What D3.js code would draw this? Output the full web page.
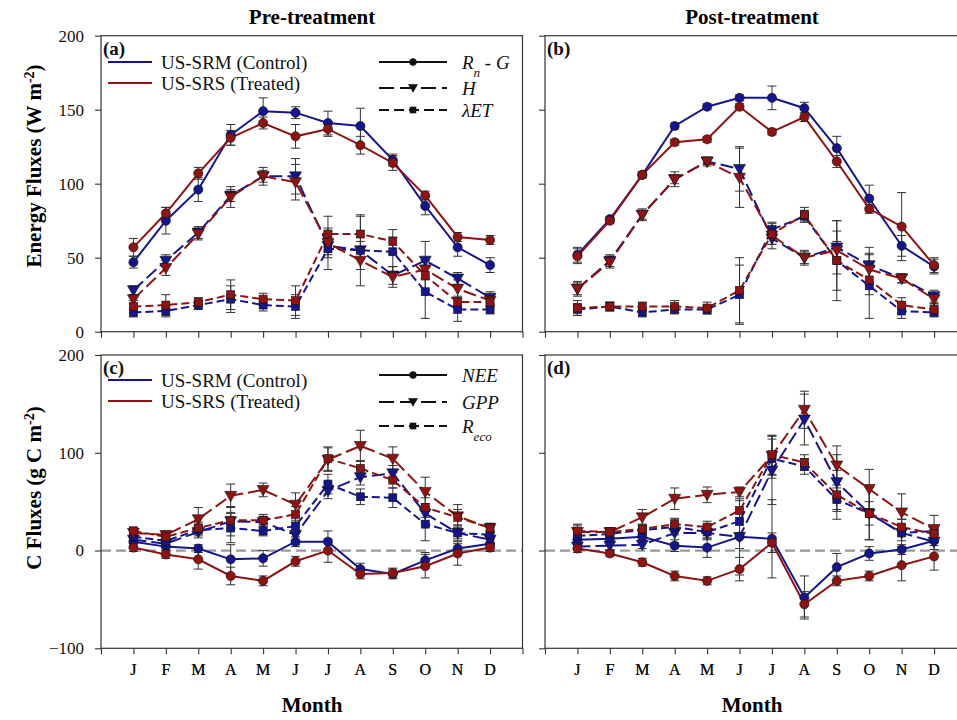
<!DOCTYPE html>
<html>
<head>
<meta charset="utf-8">
<script src="https://d3js.org/d3.v7.min.js"></script>
<style>
  body { margin: 0; background: #fff; }
  svg text { font-family: "Liberation Serif", "Times New Roman", Tinos, "DejaVu Serif", serif !important; }
</style>
</head>
<body>
<script>
// month labels
var months = ["J", "F", "M", "A", "M", "J", "J", "A", "S", "O", "N", "D"];

// (a) pre-treatment energy fluxes, W m-2
var preRnG_SRM = [47, 75, 96, 133, 149, 148, 141, 139, 116, 85, 57, 45];
var preRnG_SRM_err = [4, 9, 8, 7, 9, 4, 8, 12, 4, 6, 6, 5];
var preRnG_SRS = [57, 80, 107, 131, 141, 132, 137, 126, 114, 92, 64, 62];
var preRnG_SRS_err = [6, 4, 4, 5, 4, 8, 5, 6, 5, 3, 3, 3];
var preH_SRM = [28, 48, 67, 92, 105, 105, 58, 55, 38, 48, 36, 23];
var preH_SRM_err = [3, 4, 4, 4, 6, 12, 8, 6, 6, 13, 4, 4];
var preH_SRS = [22, 43, 66, 91, 105, 101, 60, 48, 37, 42, 29, 21];
var preH_SRS_err = [3, 5, 4, 7, 4, 12, 8, 6, 7, 6, 6, 4];
var preLE_SRM = [13, 14, 18, 22, 18, 17, 56, 55, 54, 27, 15, 15];
var preLE_SRM_err = [3, 4, 3, 9, 4, 8, 14, 24, 10, 18, 8, 3];
var preLE_SRS = [17, 18, 20, 25, 22, 21, 66, 66, 61, 38, 20, 20];
var preLE_SRS_err = [4, 7, 3, 10, 4, 10, 12, 12, 8, 10, 4, 4];

// (b) post-treatment energy fluxes
var postRnG_SRM = [52, 76, 106, 139, 152, 158, 158, 151, 124, 90, 58, 44];
var postRnG_SRM_err = [5, 2, 2, 2, 2, 2, 8, 4, 8, 9, 7, 5];
var postRnG_SRS = [51, 75, 106, 128, 130, 152, 135, 145, 115, 83, 71, 45];
var postRnG_SRS_err = [5, 2, 2, 2, 2, 2, 2, 3, 4, 3, 23, 5];
var postH_SRM = [29, 48, 79, 103, 115, 110, 63, 50, 57, 45, 36, 24];
var postH_SRM_err = [5, 4, 4, 5, 3, 15, 7, 5, 18, 12, 3, 4];
var postH_SRS = [29, 47, 79, 103, 115, 104, 65, 50, 55, 42, 36, 22];
var postH_SRS_err = [4, 4, 3, 3, 2, 20, 6, 4, 6, 10, 3, 4];
var postLE_SRM = [15, 17, 13, 15, 15, 25, 69, 78, 48, 31, 14, 13];
var postLE_SRM_err = [4, 3, 3, 3, 3, 20, 5, 4, 27, 22, 5, 3];
var postLE_SRS = [16, 17, 17, 17, 16, 28, 66, 79, 48, 35, 18, 15];
var postLE_SRS_err = [5, 3, 3, 4, 4, 22, 7, 5, 20, 10, 5, 4];

// (c) pre-treatment carbon fluxes, g C m-2
var preNEE_SRM = [9, 4, 2, -9, -8, 9, 9, -19, -24, -10, 2, 7];
var preNEE_SRM_err = [4, 4, 4, 15, 8, 5, 11, 6, 5, 8, 5, 4];
var preNEE_SRS = [3, -4, -9, -26, -31, -11, 0, -24, -23, -16, -3, 3];
var preNEE_SRS_err = [4, 4, 10, 9, 5, 5, 12, 5, 5, 12, 12, 4];
var preGPP_SRM = [11, 7, 19, 30, 29, 16, 61, 75, 79, 38, 18, 11];
var preGPP_SRM_err = [4, 4, 6, 15, 6, 10, 8, 8, 8, 10, 6, 4];
var preGPP_SRS = [18, 16, 32, 56, 62, 47, 93, 107, 94, 60, 35, 23];
var preGPP_SRS_err = [4, 4, 12, 12, 7, 12, 12, 16, 12, 15, 12, 5];
var preReco_SRM = [14, 10, 21, 23, 20, 25, 68, 55, 54, 27, 18, 16];
var preReco_SRM_err = [4, 4, 6, 15, 5, 6, 10, 8, 10, 17, 8, 4];
var preReco_SRS = [20, 14, 23, 31, 31, 37, 94, 84, 72, 44, 34, 23];
var preReco_SRS_err = [4, 4, 6, 8, 6, 8, 12, 8, 8, 10, 8, 4];

// (d) post-treatment carbon fluxes
var postNEE_SRM = [11, 12, 14, 5, 3, 14, 12, -48, -17, -3, 1, 10];
var postNEE_SRM_err = [4, 4, 4, 6, 10, 12, 40, 22, 14, 7, 5, 5];
var postNEE_SRS = [2, -3, -12, -26, -31, -19, 8, -55, -31, -26, -15, -6];
var postNEE_SRS_err = [4, 3, 4, 5, 4, 12, 10, 13, 5, 5, 16, 14];
var postGPP_SRM = [4, 5, 6, 18, 18, 14, 82, 134, 70, 38, 18, 9];
var postGPP_SRM_err = [4, 4, 4, 10, 6, 39, 35, 26, 28, 27, 14, 8];
var postGPP_SRS = [19, 19, 34, 53, 57, 60, 97, 144, 87, 63, 39, 22];
var postGPP_SRS_err = [8, 4, 8, 11, 8, 5, 20, 19, 20, 20, 19, 14];
var postReco_SRM = [15, 17, 21, 24, 19, 30, 94, 86, 52, 38, 18, 20];
var postReco_SRM_err = [4, 4, 5, 8, 8, 12, 20, 8, 12, 27, 8, 4];
var postReco_SRS = [20, 19, 22, 27, 24, 41, 98, 90, 57, 38, 24, 17];
var postReco_SRS_err = [6, 4, 5, 6, 6, 10, 20, 8, 25, 12, 8, 4];

var topTicks = [0, 50, 100, 150, 200];
var botTicks = [-100, 0, 100, 200];

var BLUE = "#16168c", RED = "#8e1414";
var DASH = {solid: null, long: "13,5", short: "8,4"};
var FONT = "'Liberation Serif', 'Times New Roman', Tinos, 'DejaVu Serif', serif";

var svg = d3.select("body").append("svg")
    .attr("width", 957).attr("height", 720)
    .attr("font-family", FONT);

var xLeft = d3.scaleLinear().domain([-1, 12]).range([101, 522.5]);
var xRight = d3.scaleLinear().domain([-1, 12]).range([545, 966.5]);
var yTop = d3.scaleLinear().domain([0, 200]).range([331.7, 35.7]);
var yBot = d3.scaleLinear().domain([-100, 200]).range([648.3, 355]);

function s(vals, err, color, kind) {
  return {vals: vals, err: err, color: color, kind: kind};
}

var panels = [
  {x: xLeft, y: yTop, ticks: topTicks, labels: true, tag: "(a)", zero: false,
   series: [s(preRnG_SRM, preRnG_SRM_err, BLUE, "solid"), s(preH_SRM, preH_SRM_err, BLUE, "long"), s(preLE_SRM, preLE_SRM_err, BLUE, "short"),
            s(preRnG_SRS, preRnG_SRS_err, RED, "solid"), s(preH_SRS, preH_SRS_err, RED, "long"), s(preLE_SRS, preLE_SRS_err, RED, "short")]},
  {x: xRight, y: yTop, ticks: topTicks, labels: false, tag: "(b)", zero: false,
   series: [s(postRnG_SRM, postRnG_SRM_err, BLUE, "solid"), s(postH_SRM, postH_SRM_err, BLUE, "long"), s(postLE_SRM, postLE_SRM_err, BLUE, "short"),
            s(postRnG_SRS, postRnG_SRS_err, RED, "solid"), s(postH_SRS, postH_SRS_err, RED, "long"), s(postLE_SRS, postLE_SRS_err, RED, "short")]},
  {x: xLeft, y: yBot, ticks: botTicks, labels: true, tag: "(c)", zero: true,
   series: [s(preNEE_SRM, preNEE_SRM_err, BLUE, "solid"), s(preGPP_SRM, preGPP_SRM_err, BLUE, "long"), s(preReco_SRM, preReco_SRM_err, BLUE, "short"),
            s(preNEE_SRS, preNEE_SRS_err, RED, "solid"), s(preGPP_SRS, preGPP_SRS_err, RED, "long"), s(preReco_SRS, preReco_SRS_err, RED, "short")]},
  {x: xRight, y: yBot, ticks: botTicks, labels: false, tag: "(d)", zero: true,
   series: [s(postNEE_SRM, postNEE_SRM_err, BLUE, "solid"), s(postGPP_SRM, postGPP_SRM_err, BLUE, "long"), s(postReco_SRM, postReco_SRM_err, BLUE, "short"),
            s(postNEE_SRS, postNEE_SRS_err, RED, "solid"), s(postGPP_SRS, postGPP_SRS_err, RED, "long"), s(postReco_SRS, postReco_SRS_err, RED, "short")]}
];

function marker(g, kind, cx, cy, fill, scale) {
  scale = scale || 1;
  if (kind === "solid") {
    g.append("circle").attr("cx", cx).attr("cy", cy).attr("r", 4.6 * scale)
      .attr("fill", fill).attr("stroke", "#111").attr("stroke-width", 0.6);
  } else if (kind === "long") {
    g.append("path").attr("d", d3.symbol(d3.symbolTriangle, 62 * scale * scale)())
      .attr("transform", "translate(" + cx + "," + (cy - 1) + ") rotate(180)")
      .attr("fill", fill).attr("stroke", "#111").attr("stroke-width", 0.6);
  } else {
    var a = 8 * scale;
    g.append("rect").attr("x", cx - a / 2).attr("y", cy - a / 2).attr("width", a).attr("height", a)
      .attr("fill", fill).attr("stroke", "#111").attr("stroke-width", 0.6);
  }
}

panels.forEach(function (p) {
  var g = svg.append("g");
  var x = p.x, y = p.y;
  var x0 = x.range()[0], x1 = x.range()[1];
  var yb = y.range()[0], yt = y.range()[1];

  if (p.zero) {
    g.append("line").attr("x1", x0).attr("x2", x1).attr("y1", y(0)).attr("y2", y(0))
      .attr("stroke", "#999").attr("stroke-width", 2.2).attr("stroke-dasharray", "10,5");
  }

  // frame
  g.append("rect").attr("x", x0).attr("y", yt).attr("width", x1 - x0).attr("height", yb - yt)
    .attr("fill", "none").attr("stroke", "#333").attr("stroke-width", 1.2);

  // x axis ticks
  var xa = g.append("g").attr("transform", "translate(0," + yb + ")")
    .call(d3.axisBottom(x).tickValues(d3.range(-1, 13)).tickSize(6).tickFormat(""));
  xa.select(".domain").remove();
  xa.selectAll("line").attr("stroke", "#333").attr("stroke-width", 1.1);

  // month labels
  g.selectAll(".mlab").data(months).enter().append("text")
    .attr("x", function (d, i) { return x(i); })
    .attr("y", 675).attr("text-anchor", "middle")
    .attr("font-size", 16).attr("fill", "#111").text(function (d) { return d; });

  // y axis
  var ya = g.append("g").attr("transform", "translate(" + x0 + ",0)")
    .call(d3.axisLeft(y).tickValues(p.ticks).tickSize(6).tickPadding(11)
      .tickFormat(p.labels ? d3.format("d") : ""));
  ya.attr("font-family", FONT);
  ya.select(".domain").remove();
  ya.selectAll("line").attr("stroke", "#333").attr("stroke-width", 1.1);
  ya.selectAll("text").attr("font-size", 17).attr("fill", "#111");

  // lines
  var line = d3.line().x(function (d, i) { return x(i); }).y(function (d) { return y(d); });
  p.series.forEach(function (sr) {
    g.append("path").datum(sr.vals).attr("d", line).attr("fill", "none")
      .attr("stroke", sr.color).attr("stroke-width", 2)
      .attr("stroke-dasharray", DASH[sr.kind]);
  });

  // error bars
  p.series.forEach(function (sr) {
    sr.vals.forEach(function (v, i) {
      var e = sr.err[i], cx = x(i);
      g.append("line").attr("x1", cx).attr("x2", cx).attr("y1", y(v - e)).attr("y2", y(v + e))
        .attr("stroke", "#333").attr("stroke-width", 1);
      [v - e, v + e].forEach(function (w) {
        g.append("line").attr("x1", cx - 4.5).attr("x2", cx + 4.5).attr("y1", y(w)).attr("y2", y(w))
          .attr("stroke", "#333").attr("stroke-width", 1);
      });
    });
  });

  // markers
  p.series.forEach(function (sr) {
    sr.vals.forEach(function (v, i) { marker(g, sr.kind, x(i), y(v), sr.color); });
  });

  g.append("text").attr("x", x0 + 2).attr("y", yt + 19).attr("font-size", 19)
    .attr("font-weight", "bold").attr("fill", "#111").text(p.tag);
});

// site legends (panels a and c)
function siteLegend(yBlue, yRed) {
  [[yBlue, BLUE, "US-SRM (Control)"], [yRed, RED, "US-SRS (Treated)"]].forEach(function (r) {
    svg.append("line").attr("x1", 108).attr("x2", 152).attr("y1", r[0]).attr("y2", r[0])
      .attr("stroke", r[1]).attr("stroke-width", 2);
    svg.append("text").attr("x", 161).attr("y", r[0] + 6.5).attr("font-size", 19)
      .attr("fill", "#111").text(r[2]);
  });
}
siteLegend(62, 83);
siteLegend(380, 401);

// variable legends
function varLegend(rows) {
  rows.forEach(function (r) {
    var ln = svg.append("line").attr("x1", 379).attr("x2", 447).attr("y1", r.y).attr("y2", r.y)
      .attr("stroke", "#111").attr("stroke-width", 2);
    if (r.kind !== "solid") ln.attr("stroke-dasharray", r.kind === "long" ? "15,6" : "10,5");
    marker(svg, r.kind, 413, r.y, "#111", 0.75);
    var t = svg.append("text").attr("x", 462).attr("y", r.y + 6.5).attr("font-size", 19)
      .attr("font-style", "italic").attr("fill", "#111");
    r.parts.forEach(function (pt) {
      var ts = t.append("tspan").text(pt[0]);
      if (pt[1] === "sub") ts.attr("baseline-shift", "sub").attr("font-size", 13);
    });
  });
}
varLegend([
  {y: 62, kind: "solid", parts: [["R"], ["n", "sub"], [" - G"]]},
  {y: 88, kind: "long", parts: [["H"]]},
  {y: 110, kind: "short", parts: [["\u03BBET"]]}
]);
varLegend([
  {y: 375, kind: "solid", parts: [["NEE"]]},
  {y: 402, kind: "long", parts: [["GPP"]]},
  {y: 426, kind: "short", parts: [["R"], ["eco", "sub"]]}
]);

// titles
svg.append("text").attr("x", 312).attr("y", 24).attr("text-anchor", "middle")
  .attr("font-size", 21).attr("font-weight", "bold").text("Pre-treatment");
svg.append("text").attr("x", 752).attr("y", 24).attr("text-anchor", "middle")
  .attr("font-size", 21).attr("font-weight", "bold").text("Post-treatment");
svg.append("text").attr("x", 312).attr("y", 712).attr("text-anchor", "middle")
  .attr("font-size", 21).attr("font-weight", "bold").text("Month");
svg.append("text").attr("x", 752).attr("y", 712).attr("text-anchor", "middle")
  .attr("font-size", 21).attr("font-weight", "bold").text("Month");

function yTitle(cy, main) {
  var t = svg.append("text").attr("transform", "translate(41," + cy + ") rotate(-90)")
    .attr("text-anchor", "middle").attr("font-size", 21).attr("font-weight", "bold");
  t.append("tspan").text(main);
  t.append("tspan").attr("baseline-shift", "super").attr("font-size", 14).text("-2");
  t.append("tspan").text(")");
}
yTitle(166, "Energy Fluxes (W m");
yTitle(488, "C Fluxes (g C m");
</script>
</body>
</html>
